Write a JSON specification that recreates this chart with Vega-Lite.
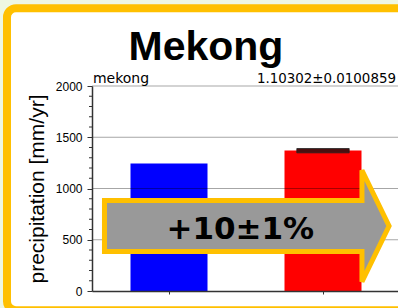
{
  "$schema": "https://vega.github.io/schema/vega-lite/v6.json",
  "width": 306,
  "height": 205,
  "autosize": {"type": "none"},
  "padding": {"left": 92, "top": 86, "right": 0, "bottom": 17},
  "background": "#eef7e3",
  "config": {"view": {"stroke": null}},
  "datasets": {
    "bars": [
      {"river": "mekong", "period": "past", "precip": 1243},
      {"river": "mekong", "period": "future", "precip": 1371, "err_lo": 1348, "err_hi": 1390}
    ],
    "grid": [{"g": 500}, {"g": 1000}, {"g": 1500}, {"g": 2000}],
    "minor": [{"m": 100}, {"m": 200}, {"m": 300}, {"m": 400}, {"m": 600}, {"m": 700}, {"m": 800}, {"m": 900}, {"m": 1100}, {"m": 1200}, {"m": 1300}, {"m": 1400}, {"m": 1600}, {"m": 1700}, {"m": 1800}, {"m": 1900}],
    "arrow": [
      {"k": 1, "ax": -0.419, "ay": 882},
      {"k": 2, "ax": 1.253, "ay": 882},
      {"k": 3, "ax": 1.253, "ay": 1178},
      {"k": 4, "ax": 1.429, "ay": 634},
      {"k": 5, "ax": 1.253, "ay": 90},
      {"k": 6, "ax": 1.253, "ay": 386},
      {"k": 7, "ax": -0.419, "ay": 386},
      {"k": 8, "ax": -0.419, "ay": 882}
    ],
    "one": [{}]
  },
  "resolve": {"scale": {"x": "independent"}},
  "layer": [
    {
      "data": {"name": "one"},
      "mark": {"type": "rect", "fill": "#ffffff", "stroke": "#ffc000", "strokeWidth": 8, "cornerRadius": 9},
      "encoding": {
        "x": {"datum": -1.052, "type": "quantitative", "scale": {"domain": [-0.5, 1.5], "range": [0, 308], "zero": false, "nice": false}, "axis": null},
        "x2": {"datum": 3},
        "y": {"datum": 2758, "type": "quantitative", "scale": {"domain": [0, 2000], "nice": false, "zero": true}},
        "y2": {"datum": -188}
      }
    },
    {
      "data": {"name": "bars"},
      "mark": {"type": "bar"},
      "encoding": {
        "x": {
          "field": "period", "type": "nominal", "sort": ["past", "future"],
          "scale": {"type": "band", "paddingInner": 0.5, "paddingOuter": 0.25, "range": [0, 308]},
          "axis": {"labels": false, "title": null, "tickSize": 3, "tickColor": "#333", "tickWidth": 1, "domainColor": "#333", "domainWidth": 1.5, "grid": false, "zindex": 1}
        },
        "y": {
          "field": "precip", "type": "quantitative",
          "scale": {"domain": [0, 2000], "nice": false, "zero": true},
          "axis": {
            "title": "precipitation [mm/yr]",
            "titleFont": "Liberation Sans", "titleFontSize": 21, "titleFontWeight": "normal", "titleColor": "#000", "titlePadding": 8,
            "values": [0, 500, 1000, 1500, 2000],
            "format": "d",
            "labelOverlap": false,
            "labelFont": "Liberation Sans", "labelFontSize": 12, "labelColor": "#000", "labelPadding": 5,
            "tickSize": 5,
            "tickColor": "#333", "tickWidth": 1,
            "domainColor": "#333", "domainWidth": 1.5,
            "grid": false, "zindex": 1
          }
        },
        "color": {"field": "period", "type": "nominal", "scale": {"domain": ["past", "future"], "range": ["#0000ff", "#ff0000"]}, "legend": null}
      }
    },
    {
      "data": {"name": "bars"},
      "transform": [{"filter": "isValid(datum.err_lo)"}],
      "mark": {"type": "bar", "width": {"band": 0.68}, "color": "#4a1010", "stroke": "#222222", "strokeWidth": 0.8},
      "encoding": {
        "x": {"field": "period", "type": "nominal", "sort": ["past", "future"], "scale": {"type": "band", "domain": ["past", "future"], "paddingInner": 0.5, "paddingOuter": 0.25, "range": [0, 308]}, "axis": null},
        "y": {"field": "err_lo", "type": "quantitative"},
        "y2": {"field": "err_hi"}
      }
    },
    {
      "data": {"name": "grid"},
      "mark": {"type": "rule", "color": "#000000", "opacity": 0.35, "strokeWidth": 1},
      "encoding": {
        "y": {"field": "g", "type": "quantitative"}
      }
    },
    {
      "data": {"name": "minor"},
      "mark": {"type": "rule", "color": "#333333", "strokeWidth": 1, "xOffset": -3},
      "encoding": {
        "x": {"datum": -0.5, "type": "quantitative", "scale": {"domain": [-0.5, 1.5], "range": [0, 308], "zero": false, "nice": false}, "axis": null},
        "x2": {"datum": -0.5},
        "y": {"field": "m", "type": "quantitative"}
      }
    },
    {
      "data": {"name": "arrow"},
      "mark": {"type": "line", "fill": "#999999", "fillOpacity": 1, "stroke": "#ffc000", "strokeWidth": 5, "strokeJoin": "miter", "strokeCap": "square", "interpolate": "linear"},
      "encoding": {
        "x": {"field": "ax", "type": "quantitative", "scale": {"domain": [-0.5, 1.5], "range": [0, 308], "zero": false, "nice": false}, "axis": null},
        "y": {"field": "ay", "type": "quantitative"},
        "order": {"field": "k", "type": "quantitative"}
      }
    },
    {
      "data": {"name": "one"},
      "mark": {"type": "text", "font": "DejaVu Sans", "fontSize": 31, "fontWeight": "bold", "color": "#000", "align": "center", "baseline": "alphabetic"},
      "encoding": {
        "x": {"datum": 0.463, "type": "quantitative", "scale": {"domain": [-0.5, 1.5], "range": [0, 308], "zero": false, "nice": false}, "axis": null},
        "y": {"datum": 511, "type": "quantitative"},
        "text": {"value": "+10±1%"}
      }
    },
    {
      "data": {"name": "one"},
      "mark": {"type": "text", "font": "Liberation Sans", "fontSize": 41, "fontWeight": "bold", "color": "#000", "align": "center", "baseline": "alphabetic"},
      "encoding": {
        "x": {"datum": 0.24, "type": "quantitative", "scale": {"domain": [-0.5, 1.5], "range": [0, 308], "zero": false, "nice": false}, "axis": null},
        "y": {"datum": 2251, "type": "quantitative"},
        "text": {"value": "Mekong"}
      }
    },
    {
      "data": {"name": "one"},
      "mark": {"type": "text", "font": "DejaVu Sans", "fontSize": 14, "color": "#000", "align": "left", "baseline": "alphabetic"},
      "encoding": {
        "x": {"datum": -0.494, "type": "quantitative", "scale": {"domain": [-0.5, 1.5], "range": [0, 308], "zero": false, "nice": false}, "axis": null},
        "y": {"datum": 2032, "type": "quantitative"},
        "text": {"value": "mekong"}
      }
    },
    {
      "data": {"name": "one"},
      "mark": {"type": "text", "font": "DejaVu Sans", "fontSize": 13.4, "color": "#000", "align": "left", "baseline": "alphabetic"},
      "encoding": {
        "x": {"datum": 0.571, "type": "quantitative", "scale": {"domain": [-0.5, 1.5], "range": [0, 308], "zero": false, "nice": false}, "axis": null},
        "y": {"datum": 2032, "type": "quantitative"},
        "text": {"value": "1.10302±0.0100859"}
      }
    }
  ]
}
